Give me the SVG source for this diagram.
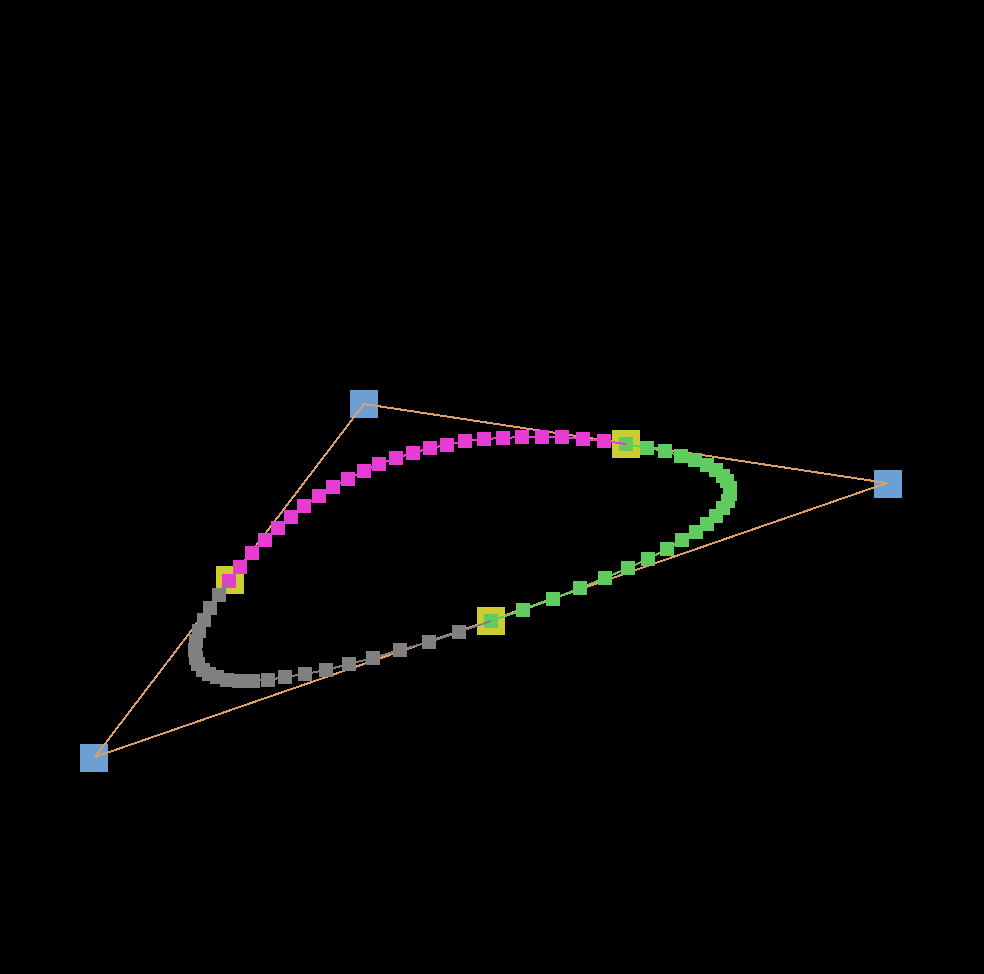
<svg xmlns="http://www.w3.org/2000/svg" width="984" height="974" viewBox="0 0 984 974">
<style>
.ctrl{fill:#6ca0d4}
.mid{fill:#cccc33}
.hull{stroke:#dca068;stroke-width:2;fill:none;shape-rendering:crispEdges}
.seg{fill:none;stroke-width:2;shape-rendering:crispEdges}
.m{fill:#e63cd2}
.g{fill:#60cc60}
.k{fill:#808080}
</style>
<defs>
<rect id="cp" x="-14" y="-14" width="28" height="28"/>
<rect id="sq" x="-7" y="-7" width="14" height="14"/>
</defs>
<rect width="984" height="974" fill="#000"/>
<g id="control-points" class="ctrl">
<g id="cp-a"><use href="#cp" x="364" y="404"/></g>
<g id="cp-b"><use href="#cp" x="888" y="484"/></g>
<g id="cp-c"><use href="#cp" x="94" y="758"/></g>
</g>
<g id="connectors" class="hull">
<line x1="364" y1="404" x2="887" y2="483"/>
<line x1="887" y1="483" x2="95" y2="757"/>
<line x1="95" y1="757" x2="364" y2="404"/>
</g>
<g id="midpoints" class="mid">
<g id="mid-ab"><use href="#cp" x="626" y="444"/></g>
<g id="mid-bc"><use href="#cp" x="491" y="621"/></g>
<g id="mid-ca"><use href="#cp" x="230" y="580"/></g>
</g>
<g id="samples-gray" class="k">
<use href="#sq" x="491" y="621"/><use href="#sq" x="459" y="632"/><use href="#sq" x="429" y="642"/><use href="#sq" x="400" y="650"/><use href="#sq" x="373" y="658"/><use href="#sq" x="349" y="664"/><use href="#sq" x="326" y="670"/><use href="#sq" x="305" y="674"/><use href="#sq" x="285" y="677"/><use href="#sq" x="268" y="680"/><use href="#sq" x="253" y="681"/><use href="#sq" x="239" y="681"/><use href="#sq" x="227" y="680"/><use href="#sq" x="217" y="677"/><use href="#sq" x="209" y="674"/><use href="#sq" x="203" y="670"/><use href="#sq" x="198" y="664"/><use href="#sq" x="196" y="658"/><use href="#sq" x="195" y="650"/><use href="#sq" x="196" y="641"/><use href="#sq" x="199" y="631"/><use href="#sq" x="204" y="620"/><use href="#sq" x="210" y="608"/><use href="#sq" x="219" y="595"/>
</g>
<g id="samples-magenta" class="m">
<use href="#sq" x="229" y="581"/><use href="#sq" x="240" y="567"/><use href="#sq" x="252" y="553"/><use href="#sq" x="265" y="540"/><use href="#sq" x="278" y="528"/><use href="#sq" x="291" y="517"/><use href="#sq" x="304" y="506"/><use href="#sq" x="319" y="496"/><use href="#sq" x="333" y="487"/><use href="#sq" x="348" y="479"/><use href="#sq" x="364" y="471"/><use href="#sq" x="379" y="464"/><use href="#sq" x="396" y="458"/><use href="#sq" x="413" y="453"/><use href="#sq" x="430" y="448"/><use href="#sq" x="447" y="445"/><use href="#sq" x="465" y="441"/><use href="#sq" x="484" y="439"/><use href="#sq" x="503" y="438"/><use href="#sq" x="522" y="437"/><use href="#sq" x="542" y="437"/><use href="#sq" x="562" y="437"/><use href="#sq" x="583" y="439"/><use href="#sq" x="604" y="441"/>
</g>
<g id="samples-green" class="g">
<use href="#sq" x="626" y="444"/><use href="#sq" x="647" y="448"/><use href="#sq" x="665" y="451"/><use href="#sq" x="681" y="456"/><use href="#sq" x="695" y="460"/><use href="#sq" x="707" y="465"/><use href="#sq" x="716" y="470"/><use href="#sq" x="723" y="476"/><use href="#sq" x="727" y="481"/><use href="#sq" x="730" y="488"/><use href="#sq" x="730" y="494"/><use href="#sq" x="728" y="501"/><use href="#sq" x="723" y="508"/><use href="#sq" x="716" y="516"/><use href="#sq" x="707" y="524"/><use href="#sq" x="696" y="532"/><use href="#sq" x="682" y="540"/><use href="#sq" x="667" y="549"/><use href="#sq" x="648" y="559"/><use href="#sq" x="628" y="568"/><use href="#sq" x="605" y="578"/><use href="#sq" x="580" y="588"/><use href="#sq" x="553" y="599"/><use href="#sq" x="523" y="610"/><use href="#sq" x="491" y="621"/>
</g>
<g id="curve-lines">
<polyline class="seg" stroke="#e63cd2" points="229,581 240,567 252,553 265,540 278,528 291,517 304,506 319,496 333,487 348,479 364,471 379,464 396,458 413,453 430,448 447,445 465,441 484,439 503,438 522,437 542,437 562,437 583,439 604,441 626,444"/>
<polyline class="seg" stroke="#60cc60" points="626,444 647,448 665,451 681,456 695,460 707,465 716,470 723,476 727,481 730,488 730,494 728,501 723,508 716,516 707,524 696,532 682,540 667,549 648,559 628,568 605,578 580,588 553,599 523,610 491,621"/>
<polyline class="seg" stroke="#808080" points="491,621 459,632 429,642 400,650 373,658 349,664 326,670 305,674 285,677 268,680 253,681 239,681 227,680 217,677 209,674 203,670 198,664 196,658 195,650 196,641 199,631 204,620 210,608 219,595 229,581"/>
</g>
</svg>
